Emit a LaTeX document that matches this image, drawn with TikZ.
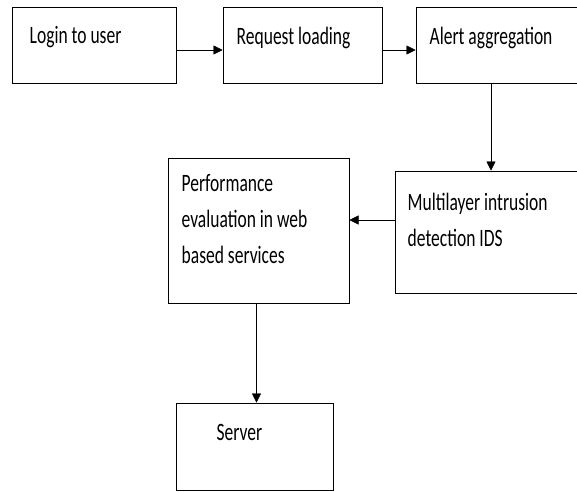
\documentclass[tikz,border=0pt]{standalone}
\usepackage{fontspec}
\setmainfont{Carlito}[FakeStretch=0.7]
\usetikzlibrary{arrows.meta}

\begin{document}
\begin{tikzpicture}[x=1pt, y=-1pt, >={Triangle[length=9pt, width=9pt]},
  font=\fontsize{25}{36}\selectfont,
  b/.style={draw, line width=1pt, inner sep=0pt},
  t/.style={anchor=north west, inner sep=0pt, align=left}]
\useasboundingbox (0,0) rectangle (577,491);
\clip (0,0) rectangle (577,491);
\node[b, minimum width=164pt, minimum height=76pt, label={[t, xshift=18pt, yshift=-20pt]north west:Login to user}] (login) at (94,45) {};
\node[b, minimum width=159pt, minimum height=76pt, label={[t, xshift=14pt, yshift=-20pt]north west:Request loading}] (req) at (302.5,45) {};
\node[b, minimum width=170pt, minimum height=76pt, label={[t, xshift=14pt, yshift=-20pt]north west:Alert aggregation}] (alert) at (501,45) {};
\node[b, minimum width=190pt, minimum height=122pt, label={[t, xshift=13pt, yshift=-22pt]north west:Multilayer intrusion\\detection IDS}] (ids) at (490,232) {};
\node[b, minimum width=181pt, minimum height=145pt, label={[t, xshift=14pt, yshift=-17pt]north west:Performance\\evaluation in web\\based services}] (perf) at (258.5,230.5) {};
\node[b, minimum width=157pt, minimum height=87pt, label={[t, xshift=41pt, yshift=-22pt]north west:Server}] (srv) at (254.5,446.5) {};
\draw[->] ([yshift=-5pt]login.east) -- ([yshift=-5pt]req.west);
\draw[->] ([yshift=-5pt]req.east) -- ([yshift=-5pt]alert.west);
\draw[->] ([xshift=-10pt]alert.south) -- ([xshift=-10pt]alert.south |- ids.north);
\draw[->] ([yshift=12pt]ids.west) -- ([yshift=12pt]ids.west -| perf.east);
\draw[->] ([xshift=-2pt]perf.south) -- ([xshift=-2pt]perf.south |- srv.north);
\end{tikzpicture}
\end{document}
